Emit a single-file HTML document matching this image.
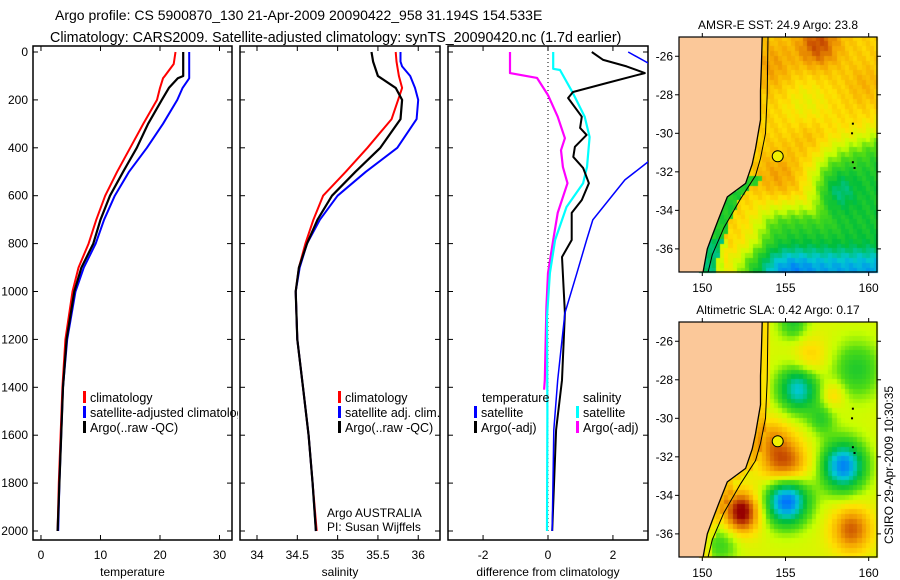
<!DOCTYPE html>
<html><head><meta charset="utf-8">
<style>
body{margin:0;background:#fff;}
svg text{font-family:"Liberation Sans",sans-serif;fill:#000;}
</style></head>
<body>
<div style="position:relative;width:900px;height:580px;overflow:hidden">
<canvas id="c1" width="900" height="580" style="position:absolute;left:0;top:0"></canvas>
<svg id="s" width="900" height="580" style="position:absolute;left:0;top:0" xmlns="http://www.w3.org/2000/svg"></svg>
</div>
<script>
// ---------- data ----------
const tDepth = [0,50,100,110,150,200,300,400,500,600,700,800,900,1000,1200,1400,1600,1800,2000];
const tClim  = [22.6,22.3,20.8,20.5,20,19.5,17.2,15,12.8,10.8,9.3,8,6.3,5.3,4.1,3.6,3.3,3.0,2.8];
const tArgo  = [23.9,23.9,23.9,23.0,21.5,20.3,18,16.1,13.8,11.6,10,8.8,6.8,5.6,4.3,3.7,3.4,3.1,2.8];
const tSat   = [24.9,24.9,24.9,24.9,23.8,22.9,20.5,17.8,14.8,12.4,10.6,9.2,7.2,5.8,4.4,3.7,3.4,3.1,2.9];
const sDepth = [0,40,60,100,150,200,280,400,500,600,700,800,900,1000,1200,1400,1600,1800,2000];
const sClim  = [35.72,35.73,35.74,35.76,35.8,35.75,35.67,35.37,35.1,34.82,34.70,34.6,34.52,34.48,34.5,34.57,34.64,34.69,34.74];
const sArgo  = [35.42,35.44,35.46,35.5,35.72,35.8,35.78,35.53,35.22,34.93,34.75,34.62,34.52,34.48,34.5,34.57,34.64,34.69,34.73];
const sSat   = [35.78,35.78,35.8,35.9,35.96,36.0,35.98,35.74,35.35,35.0,34.78,34.62,34.53,34.48,34.5,34.57,34.64,34.69,34.73];
const dTArgoDepth = [0,33,60,88,130,167,192,270,317,346,396,438,484,548,618,672,785,856,1090,1370,1578,2000];
const dTArgo      = [1.35,1.7,2.42,2.98,1.8,0.77,0.62,1.04,0.99,1.19,0.83,0.78,1.08,1.26,1.04,0.73,0.73,0.43,0.52,0.43,0.25,0.13];
const dTSatDepth = [0,46,150,350,459,534,701,785,923,1090,1370,1578,2000];
const dTSat      = [2.47,3.08,4.2,4.2,3.08,2.37,1.38,1.19,0.89,0.52,0.3,0.18,0.13];
const dSSatDepth = [0,70,75,172,270,355,480,548,647,785,923,1106,1500,2000];
const dSSat      = [0.16,0.16,0.37,0.77,1.13,1.28,1.2,1.08,0.57,0.22,0.06,-0.03,-0.02,-0.03];
const dSArgoDepth = [0,88,108,180,270,360,410,480,548,672,785,923,1065,1370,1410];
const dSArgo      = [-1.17,-1.17,-0.34,0,0.3,0.52,0.4,0.46,0.6,0.3,0.16,0,-0.05,-0.1,-0.12];
const depthTicks = [0,200,400,600,800,1000,1200,1400,1600,1800,2000];
const tTicks = [0,10,20,30];
const sTicks = [34,34.5,35,35.5,36];
const dTicks = [-2,0,2];

// ---------- helpers ----------
const S = document.getElementById('s');
const NS = 'http://www.w3.org/2000/svg';
function el(tag, attrs, parent){const e=document.createElementNS(NS,tag);for(const k in attrs)e.setAttribute(k,attrs[k]);(parent||S).appendChild(e);return e;}
function txt(x,y,str,size,anchor,parent){const t=el('text',{x:x,y:y,'font-size':size||12,'text-anchor':anchor||'start'},parent);t.textContent=str;return t;}
const Y0=52, Y1=531;
function yD(d){return Y0+(Y1-Y0)*d/2000;}

const panels=[
 {x0:33,x1:232,v0:-1.34,v1:32.1,ticks:tTicks,label:'temperature',name:'temperature-panel'},
 {x0:240,x1:440,v0:33.789,v1:36.27,ticks:sTicks,label:'salinity',name:'salinity-panel'},
 {x0:448,x1:648,v0:-3.08,v1:3.08,ticks:dTicks,label:'difference from climatology',name:'difference-panel'}
];
panels.forEach(p=>{p.fx=v=>p.x0+(p.x1-p.x0)*(v-p.v0)/(p.v1-p.v0);});

const defs=el('defs',{});
panels.forEach((p,i)=>{const cp=el('clipPath',{id:'cp'+i},defs);el('rect',{x:p.x0,y:46,width:p.x1-p.x0,height:Y1-46+9},cp);});

const t1=txt(55,20,'Argo profile: CS 5900870_130 21-Apr-2009 20090422_958 31.194S 154.533E',14);

const t2=txt(50,42,'Climatology: CARS2009. Satellite-adjusted climatology: synTS_20090420.nc (1.7d earlier)',14.3);


panels.forEach((p,i)=>{
  const g=el('g',{});
  
  
  el('rect',{x:p.x0,y:46,width:p.x1-p.x0,height:Y1-46+9,fill:'none',stroke:'#000','stroke-width':1.5},g);
  depthTicks.forEach(d=>{
    const y=yD(d);
    el('line',{x1:p.x0,x2:p.x0+5,y1:y,y2:y,stroke:'#000'},g);
    el('line',{x1:p.x1-5,x2:p.x1,y1:y,y2:y,stroke:'#000'},g);
    if(i===0){const l=txt(p.x0-5,y+4,String(d),12,'end',g);}
  });
  p.ticks.forEach(v=>{
    const x=p.fx(v);
    el('line',{x1:x,x2:x,y1:46,y2:51,stroke:'#000'},g);
    el('line',{x1:x,x2:x,y1:535,y2:540,stroke:'#000'},g);
    const l=txt(x,559,String(v),12,'middle',g);
    
    
  });
  const xl=txt((p.x0+p.x1)/2,576,p.label,12,'middle',g);
  
  
});

function line(p,i,depths,vals,color,w,name){
  const pts=depths.map((d,k)=>p.fx(vals[k]).toFixed(1)+','+yD(d).toFixed(1)).join(' ');
  const pl=el('polyline',{points:pts,fill:'none',stroke:color,'stroke-width':w,'clip-path':'url(#cp'+i+')','stroke-linejoin':'round'});
  
  
}
const P=panels;
line(P[0],0,tDepth,tClim,'#f00',2,'temperature-climatology-line');
line(P[0],0,tDepth,tSat,'#00f',2,'temperature-satellite-line');
line(P[0],0,tDepth,tArgo,'#000',2.2,'temperature-argo-line');
line(P[1],1,sDepth,sClim,'#f00',2,'salinity-climatology-line');
line(P[1],1,sDepth,sSat,'#00f',2,'salinity-satellite-line');
line(P[1],1,sDepth,sArgo,'#000',2.2,'salinity-argo-line');
const zl=el('line',{x1:P[2].fx(0),x2:P[2].fx(0),y1:50,y2:Y1,stroke:'#000','stroke-dasharray':'1,3','stroke-width':1});


line(P[2],2,dSArgoDepth,dSArgo,'#f0f',2.2,'salinity-argo-diff-line');
line(P[2],2,dSSatDepth,dSSat,'#0ff',2.2,'salinity-satellite-diff-line');
line(P[2],2,dTArgoDepth,dTArgo,'#000',2,'temperature-argo-diff-line');
line(P[2],2,dTSatDepth,dTSat,'#00f',1.5,'temperature-satellite-diff-line');

function legend(x,y,items,name,clipW){
  const g=el('g',{});
  
  
  if(clipW){const cp=el('clipPath',{id:name+'-clip'},defs);el('rect',{x:x,y:y-14,width:clipW,height:60},cp);g.setAttribute('clip-path','url(#'+name+'-clip)');}
  items.forEach((it,k)=>{
    const yy=y+k*15;
    if(it[0])el('rect',{x:x,y:yy-11,width:3,height:12,fill:it[0]},g);
    const e=txt(x+(it[0]?7:0),yy,it[1],12.5,'start',g);
    
    
  });
}
legend(83,402,[['#f00','climatology'],['#00f','satellite-adjusted climatology'],['#000','Argo(..raw -QC)']],'temperature-legend',155);
legend(338,402,[['#f00','climatology'],['#00f','satellite adj. clim.'],['#000','Argo(..raw -QC)']],'salinity-legend');
legend(474,402,[[null,''],['#00f','satellite'],['#000','Argo(-adj)']],'difference-temperature-legend');
const lt=txt(482,402,'temperature',12.5);
legend(576,402,[[null,''],['#0ff','satellite'],['#f0f','Argo(-adj)']],'difference-salinity-legend');
const ls=txt(583,402,'salinity',12.5);
const a1=txt(327,517,'Argo AUSTRALIA',12);
const a2=txt(327,531,'PI: Susan Wijffels',12);

// ---------- maps ----------
const LON0=148.6, LON1=160.5, LAT0=-25.0, LAT1=-37.2;
const maps=[{x0:679,x1:877,y0:37,y1:272,title:'AMSR-E SST: 24.9 Argo: 23.8',type:'sst',name:'sst-map'},
            {x0:679,x1:877,y0:322,y1:557,title:'Altimetric SLA: 0.42 Argo: 0.17',type:'sla',name:'sla-map'}];
const coast=[[153.6,-25.0],[153.55,-26.5],[153.5,-27.8],[153.5,-29.3],[153.2,-30.8],[153.0,-31.6],[152.6,-32.6],[151.5,-33.3],[151.0,-34.4],[150.6,-35.3],[150.3,-36.0],[150.05,-37.2]];
const shelf=[[153.95,-25.0],[153.9,-28.0],[153.8,-30.0],[153.5,-31.3],[153.2,-32.2],[152.3,-33.4],[151.3,-34.9],[150.6,-36.3],[150.35,-37.2]];
function coastLon(lat){for(let k=0;k<coast.length-1;k++){const a=coast[k],b=coast[k+1];if(lat<=a[1]&&lat>=b[1]){const t=(lat-a[1])/(b[1]-a[1]);return a[0]+t*(b[0]-a[0]);}}return 150;}
function g(lon,lat,cx,cy,r){const d=((lon-cx)**2+(lat-cy)**2)/(r*r);return Math.exp(-d);}
function sig(x){return 1/(1+Math.exp(-x));}
function sstV(lon,lat){
  let v=0.73+0.18*g(lon,lat,157,-25.4,1.2)+0.08*g(lon,lat,154.2,-26.5,1.3)-0.07*g(lon,lat,156.3,-28.5,1.5)+0.08*g(lon,lat,154.6,-32.3,1.3)+0.05*g(lon,lat,156.5,-30.2,1)+0.05*g(lon,lat,159.8,-27.5,1);
  const a=sig((-31.0-lat+0.3*(lon-158))*1.8)*sig((lon-156.8)*2), b=sig((-34.0-lat)*2)*sig((lon-153.5)*2);
  v-=0.3*Math.max(a,b);
  v-=0.1*g(lon,lat,158.3,-33,0.9);
  v-=0.22*sig((-36.3-lat)*3)*sig((lon-152)*2);
  v-=0.05*g(lon,lat,155.5,-37.2,1.0);
  v+=0.02*Math.sin(lon*7.3+lat*5.1);
  const dc=lon-coastLon(lat);
  if(lat<-32.3&&dc<0.8)v-=0.28;
  if(lat<-35.5&&dc<1.2)v-=0.08;
  return v;
}
function slaV(lon,lat){
  let v=0.63;
  v-=0.36*g(lon,lat,155.8,-28.5,1.2);
  v-=0.45*g(lon,lat,158.5,-32.5,1.3);
  v-=0.55*g(lon,lat,155.1,-34.2,1.3);
  v-=0.18*g(lon,lat,159.3,-27.5,1.5);
  v-=0.15*g(lon,lat,157.2,-30.1,0.8);
  v-=0.18*g(lon,lat,155.5,-25.1,0.9);
  v+=0.4*g(lon,lat,152.4,-34.9,1.05);
  v+=0.33*g(lon,lat,155,-32.6,1.4);
  v+=0.14*g(lon,lat,154.2,-31,1.1);
  v+=0.26*g(lon,lat,159,-35.8,1.2);
  v+=0.12*g(lon,lat,156.5,-26.9,1.1);
  v+=0.12*g(lon,lat,157.9,-28.8,0.7);
  v-=0.14*g(lon,lat,151.2,-36.6,1.0);
  const dc=lon-coastLon(lat);
  if(dc<0.5)v+=0.08;
  return v;
}
const cstops=[[0,[0,0,200]],[0.15,[0,110,255]],[0.28,[0,200,210]],[0.4,[0,190,60]],[0.52,[80,220,20]],[0.6,[200,255,0]],[0.7,[255,225,0]],[0.8,[245,165,0]],[0.9,[205,85,0]],[1,[150,0,0]]];
function cmap(v){v=Math.max(0,Math.min(1,v));for(let k=0;k<cstops.length-1;k++){const a=cstops[k],b=cstops[k+1];if(v<=b[0]){const t=(v-a[0])/(b[0]-a[0]);return 'rgb('+a[1].map((c,j)=>Math.round(c+t*(b[1][j]-c))).join(',')+')';}}return 'rgb(150,0,0)';}
const ctx=document.getElementById('c1').getContext('2d');
maps.forEach(m=>{
  const fx=lon=>m.x0+(m.x1-m.x0)*(lon-LON0)/(LON1-LON0);
  const fy=lat=>m.y0+(m.y1-m.y0)*(lat-LAT0)/(LAT1-LAT0);
  const step=0.25;
  for(let lat=LAT0;lat>LAT1-step;lat-=step){
    for(let lon=LON0;lon<LON1;lon+=step){
      const cl=lon+step/2, ca=lat-step/2;
      if(cl<coastLon(ca)-0.1)continue;
      const v=m.type==='sst'?sstV(cl,ca):slaV(cl,ca);
      ctx.fillStyle=cmap(v);
      const x=Math.max(m.x0,fx(lon)),y=Math.max(m.y0,fy(lat));
      ctx.fillRect(Math.floor(x),Math.floor(y),Math.min(m.x1,fx(lon+step))-Math.floor(x)+1,Math.min(m.y1,fy(lat-step))-Math.floor(y)+1);
    }
  }
  const gm=el('g',{});
  
  
  const landPts=[[LON0,LAT0]].concat(coast).concat([[LON0,LAT1]]).map(p=>fx(p[0]).toFixed(1)+','+fy(p[1]).toFixed(1)).join(' ');
  const land=el('polygon',{points:landPts,fill:'#fbc899',stroke:'none'},gm);
  
  
  el('polyline',{points:coast.map(p=>fx(p[0]).toFixed(1)+','+fy(p[1]).toFixed(1)).join(' '),fill:'none',stroke:'#000','stroke-width':1.3},gm);
  el('polyline',{points:shelf.map(p=>fx(p[0]).toFixed(1)+','+fy(p[1]).toFixed(1)).join(' '),fill:'none',stroke:'#000','stroke-width':1},gm);
  [[159.05,-29.5],[159.0,-30.0],[159.05,-31.5],[159.15,-31.8]].forEach(p=>el('rect',{x:fx(p[0])-1,y:fy(p[1])-1,width:2,height:2,fill:'#000'},gm));
  const mk=el('circle',{cx:fx(154.533),cy:fy(-31.194),r:5.5,fill:'#f0f000',stroke:'#000','stroke-width':1},gm);
  
  
  el('rect',{x:m.x0,y:m.y0,width:m.x1-m.x0,height:m.y1-m.y0,fill:'none',stroke:'#000','stroke-width':1.2},gm);
  [-26,-28,-30,-32,-34,-36].forEach(lat=>{
    const y=fy(lat);
    el('line',{x1:m.x0-4,x2:m.x0,y1:y,y2:y,stroke:'#000'},gm);
    el('line',{x1:m.x1,x2:m.x1+4,y1:y,y2:y,stroke:'#000'},gm);
    const l=txt(m.x0-6,y+4,String(lat),12,'end',gm);
    
    
  });
  [150,155,160].forEach(lon=>{
    const x=fx(lon);
    el('line',{x1:x,x2:x,y1:m.y0-4,y2:m.y0,stroke:'#000'},gm);
    el('line',{x1:x,x2:x,y1:m.y1,y2:m.y1+4,stroke:'#000'},gm);
    const l=txt(x,m.y1+20,String(lon),12,'middle',gm);
    
    
  });
  const tt=txt((m.x0+m.x1)/2,m.y0-8,m.title,12,'middle',gm);
  
  
});
const cs=txt(0,0,'CSIRO 29-Apr-2009 10:30:35',12,'middle');
cs.setAttribute('transform','translate(893,465) rotate(-90)');


</script>
</body></html>
